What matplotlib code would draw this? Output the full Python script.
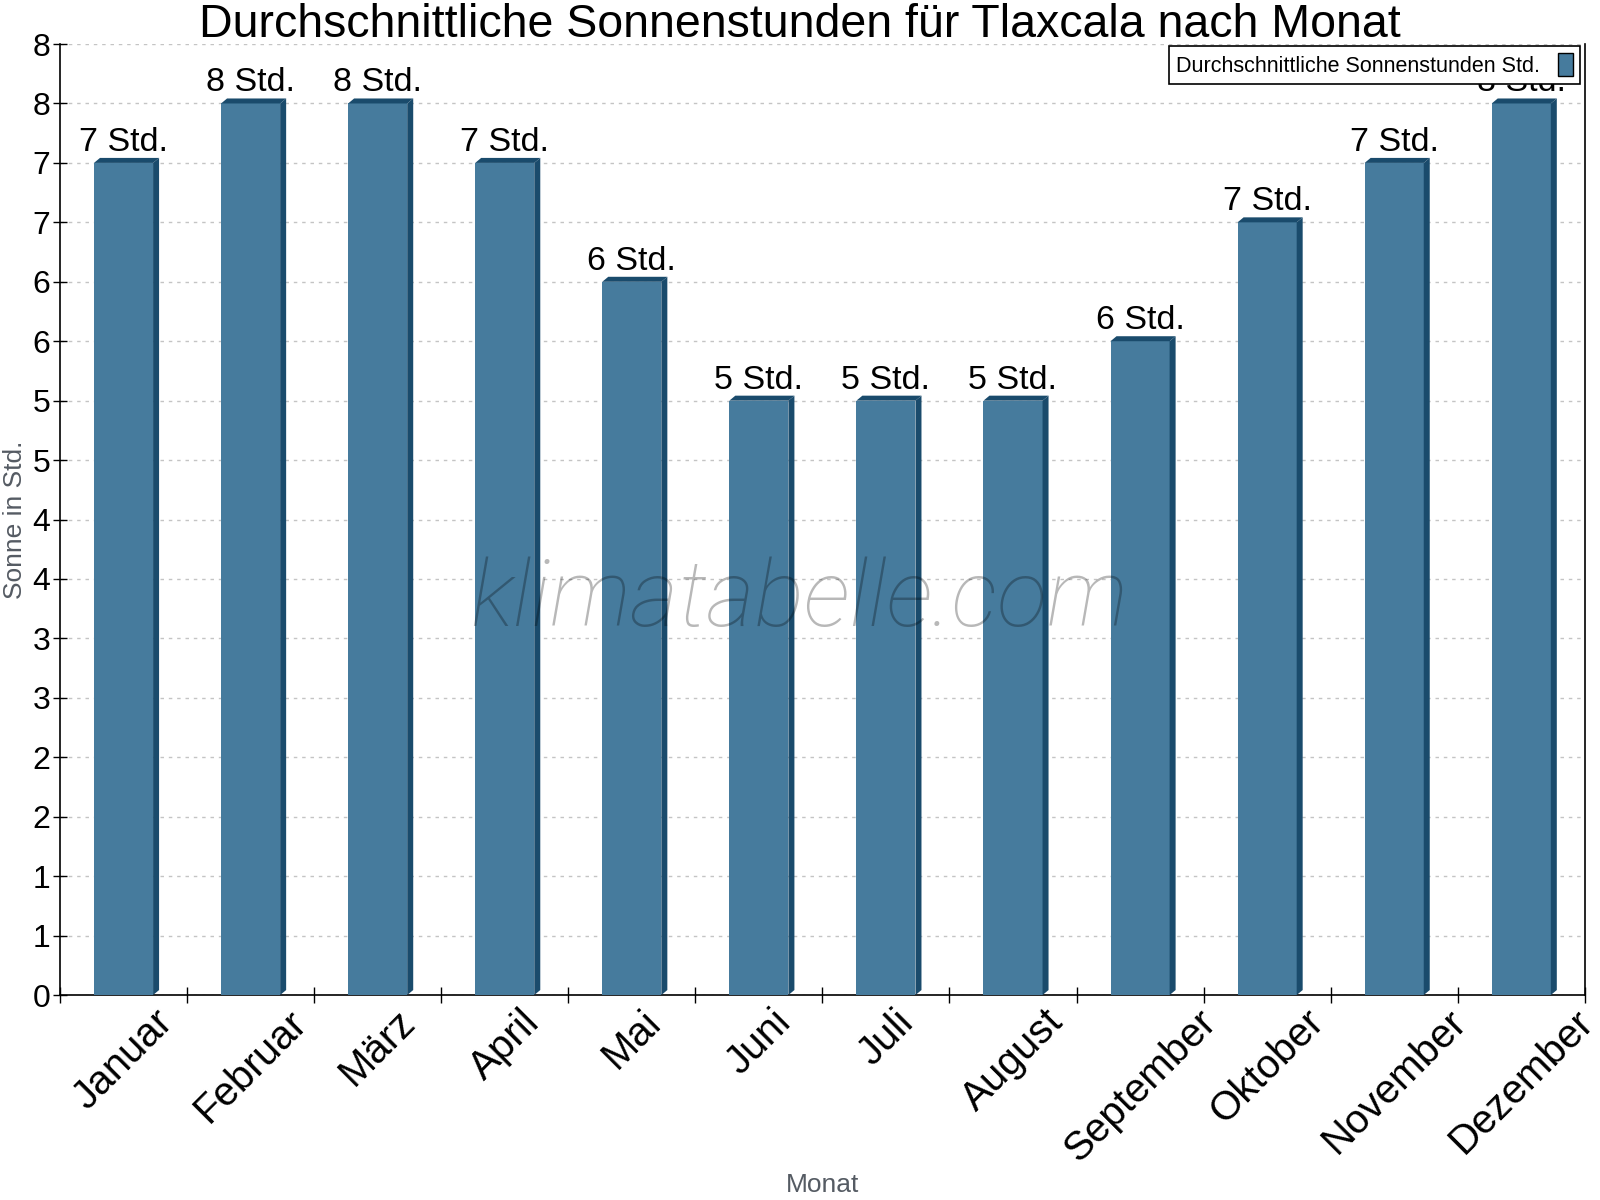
import numpy as np
import matplotlib
matplotlib.use("Agg")
import matplotlib.pyplot as plt
from matplotlib.patches import Polygon

months = ["Januar", "Februar", "März", "April", "Mai", "Juni", "Juli",
          "August", "September", "Oktober", "November", "Dezember"]
sun_hours = [7.0, 7.5, 7.5, 7.0, 6.0, 5.0, 5.0, 5.0, 5.5, 6.5, 7.0, 7.5]
y_ticks = [0, 0.5, 1, 1.5, 2, 2.5, 3, 3.5, 4, 4.5, 5, 5.5, 6, 6.5, 7, 7.5, 8]

title = "Durchschnittliche Sonnenstunden für Tlaxcala nach Monat"
legend_label = "Durchschnittliche Sonnenstunden Std."

FRONT = "#467b9d"
SIDE = "#1a4b6c"

plt.rcParams['font.family'] = ['Liberation Sans', 'DejaVu Sans']

fig = plt.figure(figsize=(16, 12), dpi=100)
ax = fig.add_axes([0.0375, 0.1708, 0.953, 0.7925])

def half_up(v):
    return int(np.floor(v + 0.5))

x = np.arange(len(months))
width = 0.465
ax.set_xlim(-0.5, len(months) - 0.5)
ax.set_ylim(0, 8)

fig.canvas.draw()
bbox = ax.get_window_extent()
dx = 6 * (len(months)) / bbox.width
dy = 5 * 8 / bbox.height

ax.bar(x, sun_hours, width=width, color=FRONT, zorder=3, label=legend_label,
       edgecolor='none')
for xi, h in zip(x, sun_hours):
    x0 = xi - width / 2
    x1 = xi + width / 2
    top = Polygon([(x0, h), (x0 + dx, h + dy), (x1 + dx, h + dy), (x1, h)],
                  closed=True, facecolor=SIDE, edgecolor='none', zorder=3)
    side = Polygon([(x1, 0), (x1, h), (x1 + dx, h + dy), (x1 + dx, dy)],
                   closed=True, facecolor=SIDE, edgecolor='none', zorder=3)
    ax.add_patch(top)
    ax.add_patch(side)
    ax.annotate(f"{half_up(h)} Std.", xy=(xi, h + dy), xytext=(0, 0),
                textcoords='offset points', ha='center', va='bottom',
                fontsize=24.5, color='black', zorder=5)

# y axis
ax.set_yticks(y_ticks)
ax.set_yticklabels([str(half_up(t)) for t in y_ticks], fontsize=23)
ax.yaxis.grid(True, color='#c4c4c4', linestyle=(0, (2.5, 3.5)), linewidth=1, zorder=0)
ax.set_axisbelow(True)
ax.tick_params(axis='y', direction='inout', length=10, width=1, pad=2)

# x axis: boundaries as major ticks, labels at centers
ax.set_xticks(np.arange(-0.5, len(months), 1.0))
ax.set_xticklabels([])
ax.tick_params(axis='x', which='major', direction='inout', length=12, width=1)
ax.set_xticks(x, minor=True)
ax.set_xticklabels(months, minor=True, fontsize=29, rotation=45, ha='center',
                   va='top')
ax.tick_params(axis='x', which='minor', length=0, pad=5.5)

for s in ['left', 'bottom', 'right']:
    ax.spines[s].set_color('black')
    ax.spines[s].set_linewidth(1.2)
ax.spines['top'].set_visible(False)

fig.text(0.514, 0.0125, "Monat", ha='center', va='center', fontsize=19, color='#555b63')
ax.set_ylabel("Sonne in Std.", fontsize=19, color='#555b63', labelpad=4)

fig.text(0.5, 0.969, title, ha='center', va='baseline', fontsize=33.5, color='black')

leg = ax.legend(loc='upper right', bbox_to_anchor=(0.997, 0.998), fontsize=15.5,
                markerfirst=False, frameon=True, fancybox=False, framealpha=1,
                edgecolor='black', handlelength=0.7, handleheight=1.2,
                borderpad=0.35, handletextpad=0.8, borderaxespad=0)
leg.get_frame().set_linewidth(1.2)
leg.set_zorder(10)
for h in leg.legend_handles:
    h.set_edgecolor('black')
    h.set_linewidth(1)

ax.text(0.485, 0.415, "klimatabelle.com", transform=ax.transAxes, ha='center',
        va='center', fontsize=67, family=['Roboto', 'DejaVu Sans'],
        fontweight='light', style='italic', color='black', alpha=0.28, zorder=6)

fig.savefig("out.png", dpi=100)
